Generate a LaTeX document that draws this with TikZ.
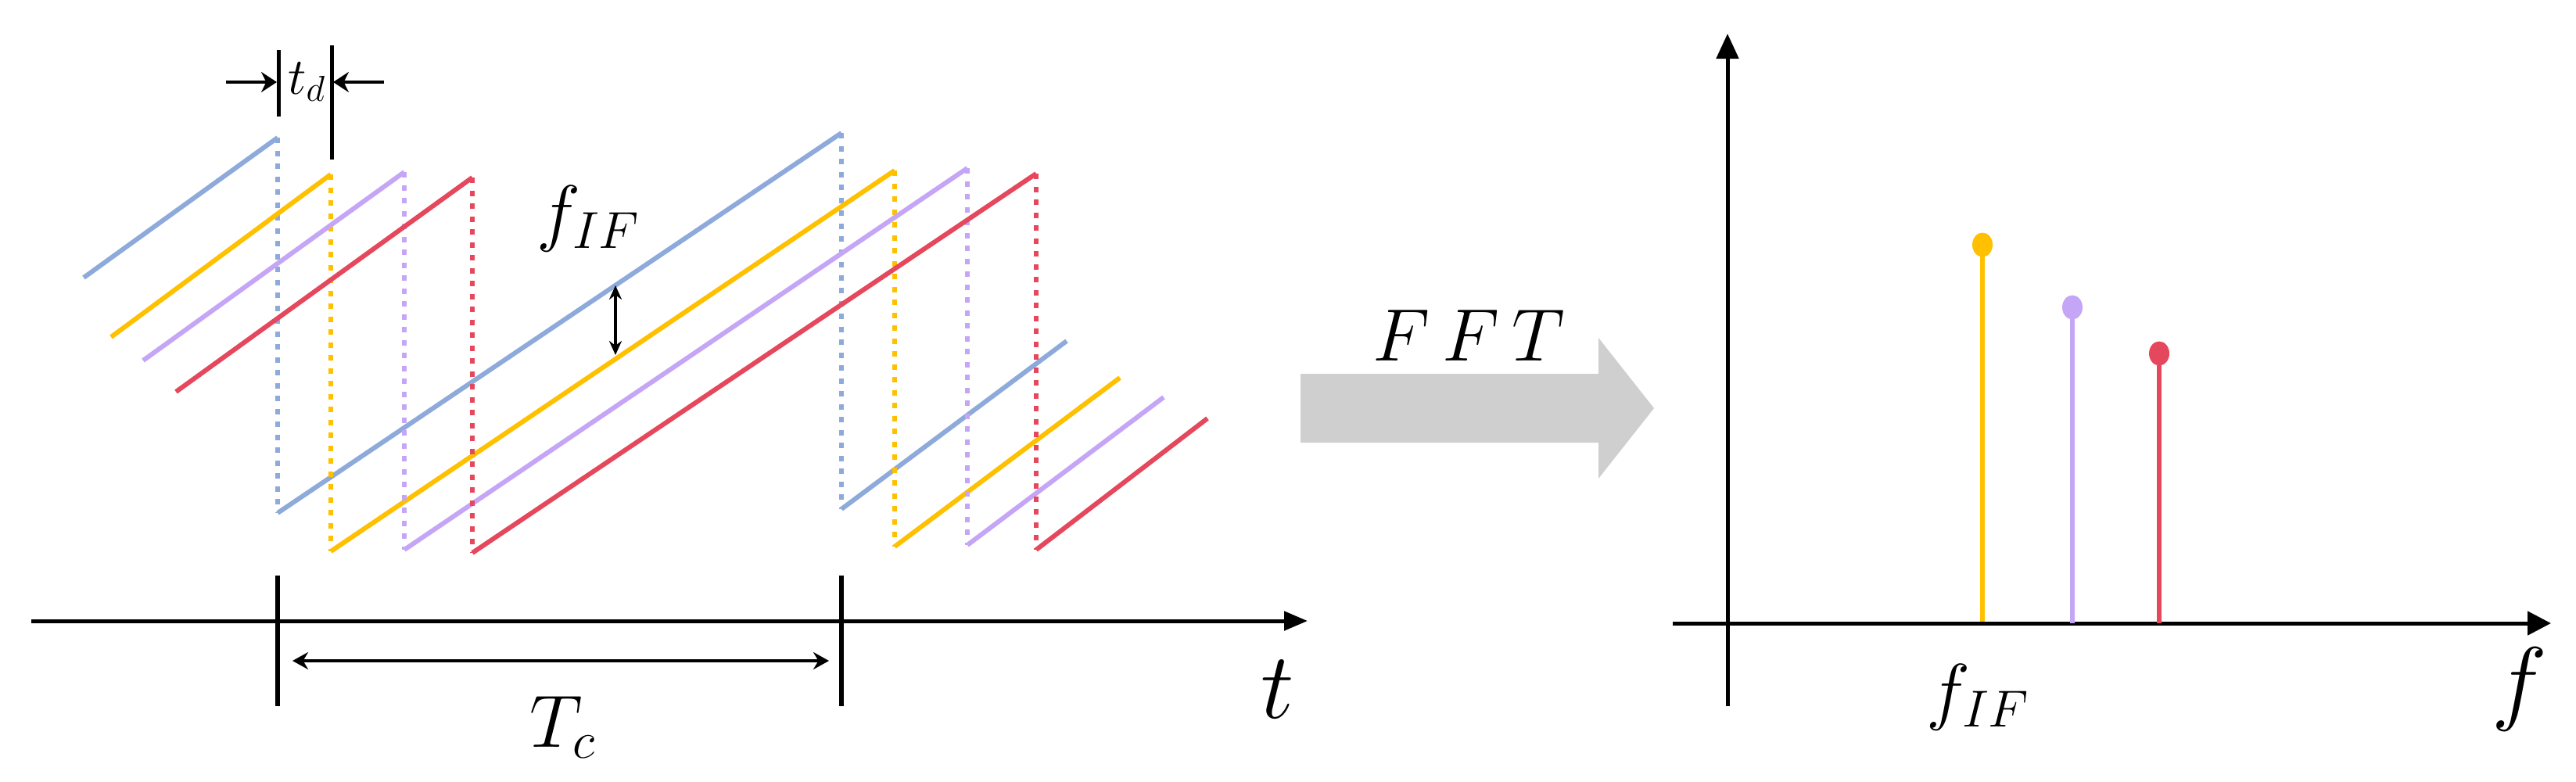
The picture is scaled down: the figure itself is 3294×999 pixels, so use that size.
\documentclass[tikz,border=0pt]{standalone}
\usepackage{fix-cm}
\usetikzlibrary{arrows.meta,shapes.geometric}
\definecolor{cblue}{HTML}{8EAADB}
\definecolor{cyellow}{HTML}{FFC000}
\definecolor{cpurple}{HTML}{C5A6F6}
\definecolor{cred}{HTML}{E5485C}
\definecolor{cgray}{HTML}{D0CFD0}
\begin{document}
\begin{tikzpicture}[x=1pt,y=-1pt,
  chirp/.style={line width=6pt},
  jump/.style={line width=5.5pt, dash pattern=on 7pt off 9.5pt},
  axis/.style={line width=5pt, -{Triangle[length=30pt,width=24pt]}},
  tick/.style={line width=6pt},
  dim/.style={line width=4pt, {Stealth[length=20pt,width=22pt]}-{Stealth[length=20pt,width=22pt]}},
  dimone/.style={line width=4pt, -{Stealth[length=20pt,width=26pt]}},
  stem/.style={line width=6pt},
  lbl/.style={inner sep=0pt, anchor=base, font=\fontsize{95}{100}\selectfont},
  biglbl/.style={inner sep=0pt, anchor=base, font=\fontsize{120}{125}\selectfont},
  smalllbl/.style={inner sep=0pt, anchor=base, font=\fontsize{66}{70}\selectfont}
]
\useasboundingbox (0,0) rectangle (3294,999);

% ---- chirps ----
% blue
\draw[chirp,cblue] (107,355) -- (355,176);
\draw[jump,cblue] (355,176) -- (355,656);
\draw[chirp,cblue] (355,656) -- (1076,170);
\draw[jump,cblue] (1076,170) -- (1076,651);
\draw[chirp,cblue] (1076,651) -- (1364,436);
% yellow
\draw[chirp,cyellow] (142,431) -- (423,223);
\draw[jump,cyellow] (423,223) -- (423,705);
\draw[chirp,cyellow] (423,705) -- (1144,218);
\draw[jump,cyellow] (1144,218) -- (1144,699);
\draw[chirp,cyellow] (1144,699) -- (1432,483);
% purple
\draw[chirp,cpurple] (183,461) -- (517,220);
\draw[jump,cpurple] (517,220) -- (517,703);
\draw[chirp,cpurple] (517,703) -- (1237,215);
\draw[jump,cpurple] (1237,215) -- (1237,697);
\draw[chirp,cpurple] (1237,697) -- (1488,508);
% red
\draw[chirp,cred] (225,501) -- (604,227);
\draw[jump,cred] (604,227) -- (604,707);
\draw[chirp,cred] (604,707) -- (1325,222);
\draw[jump,cred] (1325,222) -- (1325,703);
\draw[chirp,cred] (1325,703) -- (1544,535);

% ---- t_d marker ----
\coordinate (tdA1) at (356,64);
\coordinate (tdA2) at (356,149);
\coordinate (tdB1) at (424,58);
\coordinate (tdB2) at (424,204);
\draw[line width=5pt] (tdA1) -- (tdA2);
\draw[line width=5pt] (tdB1) -- (tdB2);
\coordinate (tdL) at (289,105);
\coordinate (tdLh) at (354,105);
\coordinate (tdR) at (491,105);
\coordinate (tdRh) at (426,105);
\draw[dimone] (tdL) -- (tdLh);
\draw[dimone] (tdR) -- (tdRh);
\node[smalllbl] (td) at (392,120) {$t_d$};

% ---- f_IF on chirps ----
\coordinate (fifA) at (787,365);
\coordinate (fifB) at (787,454);
\draw[line width=3.5pt, {Stealth[length=18pt,width=16pt]}-{Stealth[length=18pt,width=16pt]}] (fifA) -- (fifB);
\node[lbl] (fif1) at (752,303) {$f_{IF}$};

% ---- time axis ----
\coordinate (tax0) at (40,794);
\coordinate (tax1) at (1672,794);
\draw[axis] (tax0) -- (tax1);
\node[biglbl] (tlab) at (1634,918) {$t$};
\coordinate (tk1a) at (355,736);
\coordinate (tk1b) at (355,903);
\coordinate (tk2a) at (1076,736);
\coordinate (tk2b) at (1076,903);
\draw[tick] (tk1a) -- (tk1b);
\draw[tick] (tk2a) -- (tk2b);
\coordinate (tcA) at (374,845);
\coordinate (tcB) at (1060,845);
\draw[dim] (tcA) -- (tcB);
\node[lbl] (tc) at (719,955) {$T_c$};

% ---- FFT arrow ----
\fill[cgray] (1663,478) -- (2044,478) -- (2044,432) -- (2115,522) -- (2044,612) -- (2044,566) -- (1663,566) -- cycle;
\node[lbl] (fft) at (1878,461) {$F\,F\,T$};

% ---- spectrum ----
\coordinate (yax0) at (2209,903);
\coordinate (yax1) at (2209,43);
\coordinate (fax0) at (2139,797);
\coordinate (fax1) at (3262,797);
\draw[line width=5pt, -{Triangle[length=32pt,width=28pt]}] (yax0) -- (yax1);
\draw[line width=5pt, -{Triangle[length=30pt,width=30pt]}] (fax0) -- (fax1);
\node[biglbl] (flab) at (3222,911) {$f$};
\node[lbl] (fif2) at (2529,915) {$f_{IF}$};

\node[fill=cyellow, ellipse, minimum width=26pt, minimum height=31pt, inner sep=0pt] (dy) at (2535,313) {};
\node[fill=cpurple, ellipse, minimum width=26pt, minimum height=31pt, inner sep=0pt] (dp) at (2650,393) {};
\node[fill=cred, ellipse, minimum width=26pt, minimum height=31pt, inner sep=0pt] (dr) at (2761,452) {};
\coordinate (by) at (2535,795);
\coordinate (bp) at (2650,797);
\coordinate (br) at (2761,797);
\draw[stem,cyellow] (dy.center) -- (by);
\draw[stem,cpurple] (dp.center) -- (bp);
\draw[stem,cred] (dr.center) -- (br);
\end{tikzpicture}
\end{document}
